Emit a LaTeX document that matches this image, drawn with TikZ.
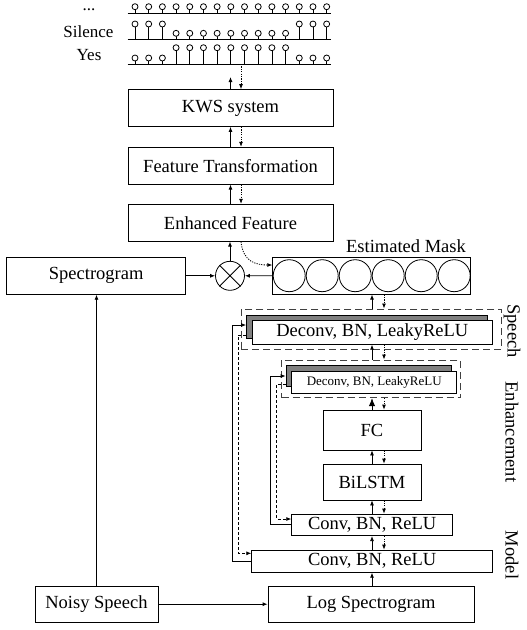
\documentclass[tikz,border=0pt]{standalone}
\usepackage{fontspec}
\setmainfont{Liberation Serif}
\usetikzlibrary{arrows.meta,calc}
\begin{document}
\begin{tikzpicture}[x=1pt,y=-1pt,
  big/.style={font=\fontsize{18.5}{20}\selectfont},
  small/.style={font=\fontsize{13}{15}\selectfont},
  box/.style={draw,line width=0.8pt,fill=white,inner sep=0pt,big},
  shadowbox/.style={draw,line width=0.8pt,fill=black!50,inner sep=0pt},
  groupbox/.style={draw=black!75,line width=1pt,dash pattern=on 7pt off 4pt,inner sep=0pt},
  up/.style={-{Latex[length=5pt,width=4pt]},line width=0.8pt},
  upbig/.style={-{Latex[length=8pt,width=6.5pt]},line width=0.8pt},
  dn/.style={-{Latex[length=5pt,width=4pt]},line width=0.8pt,dash pattern=on 1.2pt off 1.2pt},
  skipd/.style={-{Latex[length=5pt,width=4pt]},line width=0.8pt,dash pattern=on 3pt off 2pt},
  lbl/.style={inner sep=0pt,font=\fontsize{17}{19}\selectfont}
]
\useasboundingbox (0,0) rectangle (527,630);

% column references
\coordinate (cx) at (372,0);
\coordinate (dx) at (384,0);
\coordinate (lx) at (230.5,0);
\coordinate (ldx) at (241,0);

% ---- stem plot ----
\node[lbl,anchor=base] (dots) at (89,10.5) {...};
\node[lbl,anchor=base] (sil) at (88.5,37.3) {Silence};
\node[lbl,anchor=base] (yes) at (89,60) {Yes};
\foreach \yb in {13.3,39.3,64}{\draw[line width=1pt] (127.7,\yb) -- (331,\yb);}
% row 1
\foreach \i in {0,...,14}{
  \draw[line width=0.8pt] (135+13.69*\i,13.3) -- (135+13.69*\i,9.7);
  \draw[line width=0.8pt,fill=white] (135+13.69*\i,6.7) circle[radius=3];}
% row 2
\foreach \i in {0,1,2,12,13,14}{
  \draw[line width=0.8pt] (135+13.69*\i,39.3) -- (135+13.69*\i,27);
  \draw[line width=0.8pt,fill=white] (135+13.69*\i,24) circle[radius=3];}
\foreach \i in {3,...,11}{
  \draw[line width=0.8pt] (135+13.69*\i,39.3) -- (135+13.69*\i,36.3);
  \draw[line width=0.8pt,fill=white] (135+13.69*\i,33.3) circle[radius=3];}
% row 3
\foreach \i in {3,...,11}{
  \draw[line width=0.8pt] (135+13.69*\i,64) -- (135+13.69*\i,50.7);
  \draw[line width=0.8pt,fill=white] (135+13.69*\i,47.7) circle[radius=3];}
\foreach \i in {0,1,2,12,13,14}{
  \draw[line width=0.8pt] (135+13.69*\i,64) -- (135+13.69*\i,61);
  \draw[line width=0.8pt,fill=white] (135+13.69*\i,58) circle[radius=3];}
\coordinate (topend) at (230.5,77);
\coordinate (yesb) at (241,64);

% ---- left column ----
\node[box,minimum width=205pt,minimum height=37pt] (kws) at (230.5,108) {KWS system};
\node[box,minimum width=205pt,minimum height=37pt] (ft) at (230.5,165.7) {Feature Transformation};
\node[box,minimum width=205pt,minimum height=37pt] (ef) at (230.5,222.7) {Enhanced Feature};
\node[box,minimum width=179pt,minimum height=37pt] (spec) at (96.2,275.8) {Spectrogram};
\node[draw,circle,line width=0.8pt,minimum size=29pt,inner sep=0pt] (mul) at (230,275.8) {};
\draw[line width=0.8pt] (mul.north west) -- (mul.south east) (mul.north east) -- (mul.south west);
\node[box,minimum width=123pt,minimum height=36.5pt] (noisy) at (96.5,604.2) {Noisy Speech};

% ---- mask ----
\node[box,minimum width=198pt,minimum height=37pt] (mask) at (371.7,275.7) {};
\foreach \i in {0,...,5}{\draw[line width=0.8pt] (289.2+33*\i,275.7) circle[radius=16];}
\node[big,inner sep=0pt] (mlabel) at (406,246) {Estimated Mask};

% ---- speech enhancement model ----
\node[groupbox,minimum width=260.7pt,minimum height=40pt] (odash) at (371.35,329) {};
\node[shadowbox,minimum width=240.7pt,minimum height=23.6pt] (oshadow) at (366.85,326.8) {};
\node[box,minimum width=240.7pt,minimum height=23.6pt] (owhite) at (372.35,332.5) {Deconv, BN, LeakyReLU};

\node[groupbox,minimum width=179pt,minimum height=37.7pt] (idash) at (371.2,378.85) {};
\node[shadowbox,minimum width=165pt,minimum height=21.6pt] (ishadow) at (368.5,375.8) {};
\node[box,small,minimum width=165pt,minimum height=21.6pt] (iwhite) at (374.2,382.5) {Deconv, BN, LeakyReLU};

\node[box,minimum width=98pt,minimum height=40pt] (fc) at (372,430) {FC};
\node[box,minimum width=98pt,minimum height=36pt] (bilstm) at (372,482) {BiLSTM};
\node[box,minimum width=161pt,minimum height=21.7pt] (convi) at (372.2,524.85) {Conv, BN, ReLU};
\node[box,minimum width=241pt,minimum height=22.3pt] (convo) at (372.2,561.15) {Conv, BN, ReLU};
\node[box,minimum width=206pt,minimum height=36.5pt] (logs) at (371,604.2) {Log Spectrogram};

\node[big,rotate=-90,inner sep=0pt] (w1) at (512,331) {Speech};
\node[big,rotate=-90,inner sep=0pt] (w2) at (512,432) {Enhancement};
\node[big,rotate=-90,inner sep=0pt] (w3) at (512,555) {Model};

% ---- connectors ----
\draw[up] (lx |- kws.north) -- (topend);
\draw[dn] (yesb) -- (ldx |- kws.north);
\draw[up] (lx |- ft.north) -- (lx |- kws.south);
\draw[dn] (ldx |- kws.south) -- (ldx |- ft.north);
\draw[up] (lx |- ef.north) -- (lx |- ft.south);
\draw[dn] (ldx |- ft.south) -- (ldx |- ef.north);
\draw[up] (mul.north) -- (mul.north |- ef.south);
\draw[dn] (ldx |- ef.south) .. controls (243,262) and (256,265) .. ($(mask.west)+(0,-10.7)$);
\draw[up] (spec.east) -- (mul.west);
\draw[up] (mask.west) -- (mul.east);
\draw[up] (noisy.north) -- (noisy.north |- spec.south);
\draw[up] (noisy.east) -- (logs.west);

\draw[up] (cx |- odash.north) -- (cx |- mask.south);
\draw[dn] (dx |- mask.south) -- (dx |- odash.north);
\draw[up] (cx |- idash.north) -- (cx |- owhite.south);
\draw[dn] (dx |- owhite.south) -- (dx |- idash.north);
\draw[upbig] (cx |- fc.north) -- (cx |- idash.south);
\draw[dn] (dx |- idash.south) -- (dx |- fc.north);
\draw[up] (cx |- bilstm.north) -- (cx |- fc.south);
\draw[dn] (dx |- fc.south) -- (dx |- bilstm.north);
\draw[up] (cx |- convi.north) -- (cx |- bilstm.south);
\draw[dn] (dx |- bilstm.south) -- (dx |- convi.north);
\draw[up] (cx |- convo.north) -- (cx |- convi.south);
\draw[dn] (dx |- convi.south) -- (dx |- convo.north);
\draw[up] (cx |- logs.north) -- (cx |- convo.south);

% skip connections
\draw[up] (convo.west) -| (232,325) -- (oshadow.west |- 0,325);
\draw[skipd] (oshadow.west |- 0,335) -| (238.3,553.3) -- (convo.west |- 0,553.3);
\draw[up] (convi.west) -| (270.7,376) -- (ishadow.west |- 0,376);
\draw[skipd] (ishadow.west |- 0,384) -| (276.7,519) -- (convi.west |- 0,519);
\end{tikzpicture}
\end{document}
